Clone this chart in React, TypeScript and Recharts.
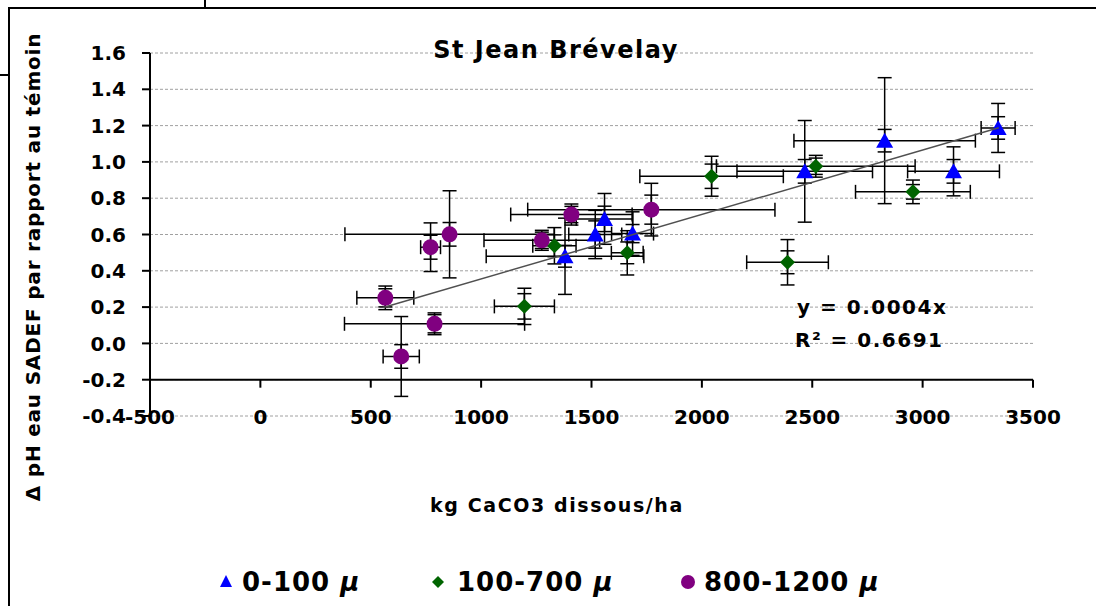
import { ScatterChart, Scatter, XAxis, YAxis, CartesianGrid, ErrorBar, ReferenceLine } from "recharts";

const FONT = "'Comic Sans MS', 'DejaVu Sans', sans-serif";

const xTicks = [-500, 0, 500, 1000, 1500, 2000, 2500, 3000, 3500];
const yTicks = [-0.4, -0.2, 0, 0.2, 0.4, 0.6, 0.8, 1.0, 1.2, 1.4, 1.6];

// 0-100 µ
const blueX = [1380, 1517, 1559, 1686, 2466, 2828, 3140, 3342];
const blueY = [0.48, 0.6, 0.686, 0.605, 0.948, 1.117, 0.948, 1.187];
const blueEx = [357, 120, 128, 95, 307, 411, 208, 77];
const blueEy = [0.21, 0.133, 0.14, 0.12, 0.28, 0.347, 0.135, 0.135];
const blueEyIn = [0.06, 0.075, 0.07, 0.05, 0.065, 0.062, 0.065, 0.062];

// 100-700 µ
const greenX = [1196, 1332, 1662, 2044, 2388, 2516, 2956];
const greenY = [0.204, 0.538, 0.499, 0.921, 0.447, 0.976, 0.835];
const greenEx = [136, 98, 72, 325, 185, 450, 260];
const greenEy = [0.1, 0.1, 0.122, 0.11, 0.125, 0.06, 0.065];
const greenEyIn = [0.07, 0.06, 0.06, 0.067, 0.063, 0.045, 0.04];

// 800-1200 µ
const purpleX = [566, 638, 771, 789, 857, 1275, 1409, 1771];
const purpleY = [0.251, -0.072, 0.53, 0.108, 0.601, 0.568, 0.71, 0.737];
const purpleEx = [129, 82, 45, 408, 474, 262, 275, 560];
const purpleEy = [0.065, 0.22, 0.134, 0.06, 0.24, 0.055, 0.058, 0.145];
const purpleEyIn = [0.05, 0.065, 0.066, 0.05, 0.065, 0.045, 0.045, 0.08];

// linear trend (y = 0.0004x)
const trendX = [557, 3345];
const trendY = [0.198, 1.188];

const build = (xs: number[], ys: number[], ex: number[], ey: number[], eyi: number[]) =>
  xs.map((x, i) => ({ x, y: ys[i], ex: ex[i], ey: ey[i], eyi: eyi[i] }));

const blueData = build(blueX, blueY, blueEx, blueEy, blueEyIn);
const greenData = build(greenX, greenY, greenEx, greenEy, greenEyIn);
const purpleData = build(purpleX, purpleY, purpleEx, purpleEy, purpleEyIn);
const trendData = trendX.map((x, i) => ({ x, y: trendY[i] }));

const BLUE = "#0000ff";
const GREEN = "#006400";
const PURPLE = "#800080";

const Triangle = ({ cx, cy }: any) => (
  <polygon points={`${cx},${cy - 8} ${cx - 8.5},${cy + 7} ${cx + 8.5},${cy + 7}`} fill={BLUE} />
);
const Diamond = ({ cx, cy }: any) => (
  <polygon points={`${cx},${cy - 7.5} ${cx + 7.5},${cy} ${cx},${cy + 7.5} ${cx - 7.5},${cy}`} fill={GREEN} />
);
const Dot = ({ cx, cy }: any) => <circle cx={cx} cy={cy} r={8} fill={PURPLE} />;

const XTick = ({ x, y, payload }: any) => (
  <text x={x} y={y + 1} textAnchor="middle" dominantBaseline="central"
    fontFamily={FONT} fontSize={20} fontWeight="bold" fill="#000">
    {payload.value}
  </text>
);

const bars = [
  <ErrorBar key="ex" dataKey="ex" direction="x" width={7} stroke="#000" strokeWidth={1.5} isAnimationActive={false} />,
  <ErrorBar key="ey" dataKey="ey" direction="y" width={7} stroke="#000" strokeWidth={1.5} isAnimationActive={false} />,
  <ErrorBar key="eyi" dataKey="eyi" direction="y" width={7} stroke="#000" strokeWidth={1.5} isAnimationActive={false} />,
];

export default function App() {
  const txt = { fontFamily: FONT, fontWeight: "bold" as const, fill: "#000" };
  return (
    <div style={{ position: "fixed", left: 0, top: 0, width: 1096, height: 606, background: "#fff" }}>
      <ScatterChart width={1096} height={606} margin={{ top: 53, right: 63, bottom: 0, left: 0 }}>
        <CartesianGrid horizontal vertical={false} stroke="#a0a0a0" strokeDasharray="3 2" />
        <XAxis type="number" dataKey="x" domain={[-500, 3500]} ticks={xTicks} interval={0}
          axisLine={false} tickLine={false} tickSize={0} tickMargin={0} height={190} tick={<XTick />} />
        <YAxis type="number" dataKey="y" domain={[-0.4, 1.6]} ticks={yTicks} interval={0} width={150}
          tickFormatter={(v: number) => v.toFixed(1)}
          axisLine={{ stroke: "#000", strokeWidth: 2 }}
          tickLine={{ stroke: "#000", strokeWidth: 2 }} tickSize={8} tickMargin={16}
          tick={{ fontFamily: FONT, fontSize: 20, fontWeight: "bold", fill: "#000" }} />
        <ReferenceLine x={-500} stroke="#000" strokeWidth={2} />
        <ReferenceLine y={-0.2} stroke="#000" strokeWidth={2} />
        {xTicks.map((t) => (
          <ReferenceLine key={t} segment={[{ x: t, y: -0.2 }, { x: t, y: -0.244 }]} stroke="#000" strokeWidth={2} />
        ))}
        <Scatter name="0-100 µ" data={blueData} dataKey="y" shape={<Triangle />} isAnimationActive={false}>
          {bars}
        </Scatter>
        <Scatter name="100-700 µ" data={greenData} dataKey="y" shape={<Diamond />} isAnimationActive={false}>
          {bars}
        </Scatter>
        <Scatter name="800-1200 µ" data={purpleData} dataKey="y" shape={<Dot />} isAnimationActive={false}>
          {bars}
        </Scatter>
        <Scatter data={trendData} dataKey="y" line={{ stroke: "#505050", strokeWidth: 1.5 }}
          shape={() => <g />} legendType="none" isAnimationActive={false} />
      </ScatterChart>

      <svg width={1096} height={606} style={{ position: "absolute", left: 0, top: 0, pointerEvents: "none" }}>
        <line x1={9} y1={8} x2={9} y2={606} stroke="#000" strokeWidth={2} />
        <line x1={8} y1={8} x2={1096} y2={8} stroke="#000" strokeWidth={2} />
        <line x1={205} y1={0} x2={205} y2={8} stroke="#000" strokeWidth={2} />
        <line x1={0} y1={75} x2={9} y2={75} stroke="#000" strokeWidth={2} />

        <text x={556} y={50} textAnchor="middle" dominantBaseline="central" fontSize={24} letterSpacing={1.5} {...txt}>
          St Jean Brévelay
        </text>
        <text transform="translate(33,267) rotate(-90)" textAnchor="middle" dominantBaseline="central"
          fontSize={20} letterSpacing={0.8} {...txt}>
          Δ pH eau SADEF par rapport au témoin
        </text>
        <text x={557} y={505} textAnchor="middle" dominantBaseline="central" fontSize={19} letterSpacing={1.6} {...txt}>
          kg CaCO3 dissous/ha
        </text>
        <text x={797} y={307} dominantBaseline="central" fontSize={20} letterSpacing={1.5} {...txt}>y = 0.0004x</text>
        <text x={795} y={340} dominantBaseline="central" fontSize={20} letterSpacing={1.5} {...txt}>R² = 0.6691</text>

        <polygon points="226,575 220,587 232,587" fill={BLUE} />
        <text x={242} y={582} dominantBaseline="central" fontSize={26} letterSpacing={1} {...txt}>
          0-100 <tspan fontStyle="italic">µ</tspan>
        </text>
        <polygon points="438,576 444,582 438,588 432,582" fill={GREEN} />
        <text x={457} y={582} dominantBaseline="central" fontSize={26} letterSpacing={1} {...txt}>
          100-700 <tspan fontStyle="italic">µ</tspan>
        </text>
        <circle cx={688} cy={582} r={7} fill={PURPLE} />
        <text x={704} y={582} dominantBaseline="central" fontSize={26} letterSpacing={1} {...txt}>
          800-1200 <tspan fontStyle="italic">µ</tspan>
        </text>
      </svg>
    </div>
  );
}
